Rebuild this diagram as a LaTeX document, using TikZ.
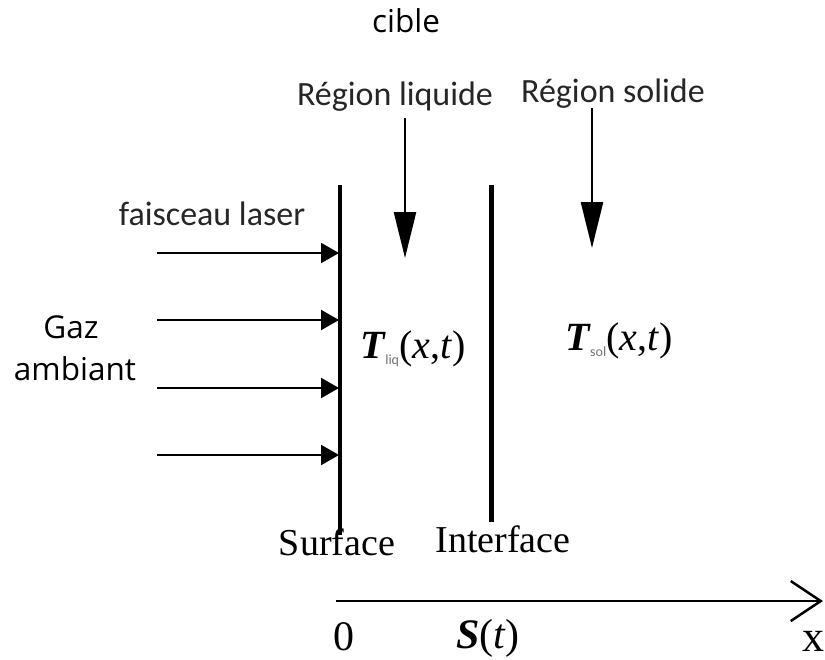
\documentclass[tikz,border=0pt]{standalone}
\usepackage{fontspec}
\setmainfont{Liberation Serif}
\newfontfamily\calib{Carlito}
\newfontfamily\opens{Open Sans}
\usetikzlibrary{arrows.meta}
\begin{document}
\begin{tikzpicture}[x=1pt,y=-1pt,
  sanslbl/.style={font=\calib\fontsize{34}{40}\selectfont, inner sep=0, anchor=base, text=black!85},
  openlbl/.style={font=\opens\fontsize{31.5}{36}\selectfont, inner sep=0, anchor=base},
  serlbl/.style={font=\fontsize{38}{44}\selectfont, inner sep=0, anchor=base},
  wall/.style={line width=4pt},
  laser/.style={line width=2pt, -{Triangle[length=18pt,width=20pt]}},
  region/.style={line width=2.5pt, -{Triangle[length=46pt,width=22pt]}},
  axis/.style={line width=2.5pt, -{Straight Barb[length=30pt,width=40pt,line width=2.5pt]}}]
\useasboundingbox (0,0) rectangle (825,659);

% titles
\node[openlbl] (cible) at (406,32) {cible};
\node[sanslbl] (rliq) at (395,105) {Région liquide};
\node[sanslbl] (rsol) at (613,102) {Région solide};
\node[sanslbl] (laser) at (212,225) {faisceau laser};
\node[openlbl] (gaz) at (71,338) {Gaz};
\node[openlbl] (amb) at (75,380) {ambiant};

% walls
\coordinate (s1) at (340,185);
\coordinate (s2) at (340,535);
\coordinate (i1) at (491,185);
\coordinate (i2) at (491,522);
\draw[wall] (s1) -- (s2);
\draw[wall, line width=5pt] (i1) -- (i2);

% laser arrows
\foreach \y [count=\k] in {253,320,388,455}{
  \coordinate (la\k) at (157,\y);
  \coordinate (lb\k) at (339,\y);
  \draw[laser] (la\k) -- (lb\k);
}

% region arrows
\coordinate (ra1) at (405,118);
\coordinate (ra2) at (405,258);
\coordinate (sa1) at (592,108);
\coordinate (sa2) at (592,248);
\draw[region] (ra1) -- (ra2);
\draw[region] (sa1) -- (sa2);

% temperatures
\node[serlbl, font=\fontsize{40}{44}\selectfont] (tliq) at (413,358)
  {\textbf{\textit{T}}\kern-1pt{\calib\fontsize{14}{14}\selectfont\raisebox{-6pt}{\color{black!55}liq}}(\textit{x},\textit{t})};
\node[serlbl, font=\fontsize{40}{44}\selectfont] (tsol) at (619,350)
  {\textbf{\textit{T}}\kern-1pt{\calib\fontsize{14}{14}\selectfont\raisebox{-6pt}{\color{black!55}sol}}(\textit{x},\textit{t})};

% surface labels
\node[serlbl] (surf) at (337,555) {Surface};
\node[serlbl] (inter) at (503,552) {Interface};

% axis
\coordinate (ax0) at (336,601);
\coordinate (ax1) at (823,601);
\draw[axis] (ax0) -- (ax1);
\node[serlbl, font=\fontsize{42}{46}\selectfont] (zero) at (344,650) {0};
\node[serlbl, font=\fontsize{42}{46}\selectfont] (st) at (488,648) {\textbf{\textit{S}}(\textit{t})};
\node[serlbl, font=\fontsize{44}{48}\selectfont] (xl) at (813,651) {x};
\end{tikzpicture}
\end{document}
